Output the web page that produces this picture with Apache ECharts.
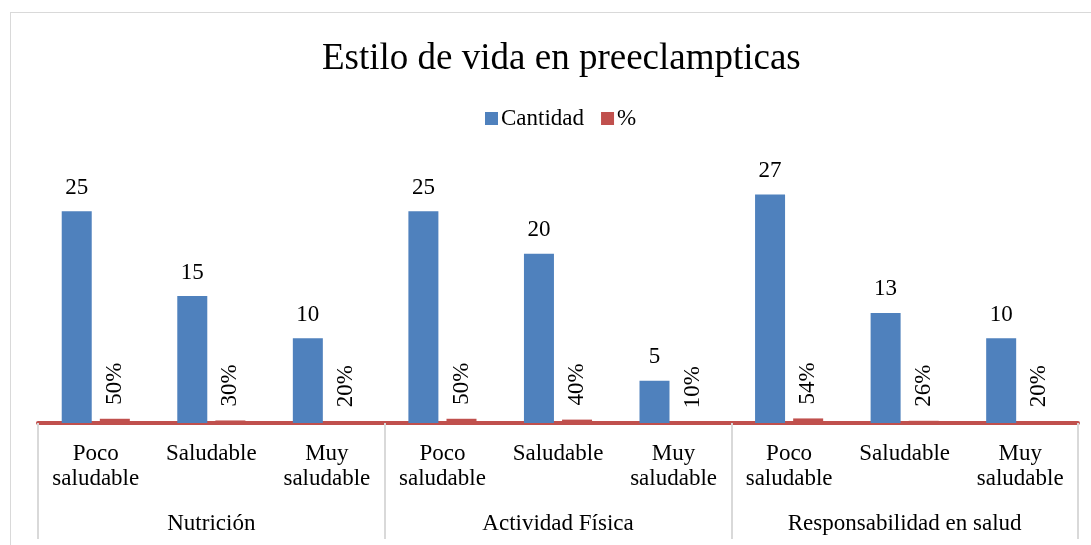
<!DOCTYPE html>
<html>
<head>
<meta charset="utf-8">
<script src="https://cdn.jsdelivr.net/npm/echarts@6/dist/echarts.min.js"></script>
<style>
  html, body { margin: 0; padding: 0; background: #fff; overflow: hidden; }
  #frame { position: absolute; left: 10px; top: 12px; width: 1100px; height: 560px; border: 1px solid #d9d9d9; }
  #chart { position: absolute; left: 0; top: 0; width: 1091px; height: 545px; }
</style>
</head>
<body>
<div id="frame"></div>
<div id="chart"></div>
<script>
// datos
var subcats = ['Poco\nsaludable', 'Saludable', 'Muy\nsaludable',
               'Poco\nsaludable', 'Saludable', 'Muy\nsaludable',
               'Poco\nsaludable', 'Saludable', 'Muy\nsaludable'];
var groups = ['Nutrición', 'Actividad Física', 'Responsabilidad en salud'];
var cantidad = [25, 15, 10, 25, 20, 5, 27, 13, 10];
var porcentaje = [0.50, 0.30, 0.20, 0.50, 0.40, 0.10, 0.54, 0.26, 0.20];

var font = 'Liberation Serif, Times New Roman, serif';
var myChart = echarts.init(document.getElementById('chart'));
var option = {
  backgroundColor: 'transparent',
  textStyle: { fontFamily: font },
  title: {
    text: 'Estilo de vida en preeclampticas',
    left: 317,
    top: 36,
    textStyle: { fontFamily: font, fontSize: 37, fontWeight: 'normal', color: '#000' }
  },
  legend: {
    top: 102,
    left: 480,
    itemWidth: 13,
    itemHeight: 13,
    itemGap: 17,
    icon: 'rect',
    textStyle: { fontFamily: font, fontSize: 23, color: '#000', padding: [0, 0, 0, -2] },
    data: ['Cantidad', '%']
  },
  grid: { left: 38, right: 13, top: 169, bottom: 122 },
  xAxis: [
    {
      type: 'category',
      data: subcats,
      position: 'bottom',
      axisLine: { lineStyle: { color: '#c0504d', width: 4 } },
      axisTick: { show: false },
      axisLabel: { fontFamily: font, fontSize: 23, color: '#000', margin: 18, lineHeight: 25, interval: 0 }
    },
    {
      type: 'category',
      data: groups,
      position: 'bottom',
      axisLine: { show: false },
      axisTick: { show: true, alignWithLabel: false, length: 116, inside: false,
                  lineStyle: { color: '#d9d9d9', width: 2 } },
      axisLabel: { fontFamily: font, fontSize: 23, color: '#000', margin: 89, interval: 0 }
    }
  ],
  yAxis: {
    type: 'value',
    min: 0,
    max: 30,
    show: false,
    splitLine: { show: false }
  },
  series: [
    {
      name: 'Cantidad',
      type: 'bar',
      data: cantidad,
      barWidth: 30,
      barGap: '27%',
      itemStyle: { color: '#4f81bd' },
      label: { show: true, position: 'top', distance: 12, fontFamily: font, fontSize: 23, color: '#000' }
    },
    {
      name: '%',
      type: 'bar',
      data: porcentaje,
      barWidth: 30,
      itemStyle: { color: '#c0504d' },
      label: {
        show: true, position: 'top', rotate: 90, align: 'left', verticalAlign: 'middle',
        distance: 14, fontFamily: font, fontSize: 23, color: '#000',
        formatter: function (p) { return Math.round(p.value * 100) + '%'; }
      }
    }
  ]
};
myChart.setOption(option);
</script>
</body>
</html>
